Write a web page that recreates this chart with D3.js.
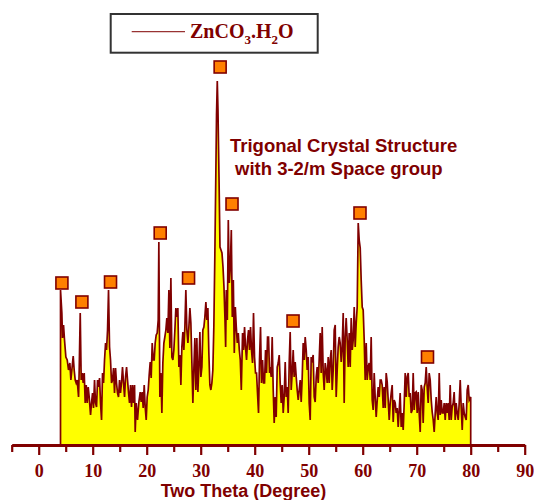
<!DOCTYPE html>
<html><head><meta charset="utf-8">
<script src="https://cdn.jsdelivr.net/npm/d3@7/dist/d3.min.js"></script>
<style>body{margin:0;background:#fff} svg{display:block}</style>
</head><body>
<svg id="chart" width="534" height="500"></svg>
<script>
// ---- data ----
const twoTheta = [
 4.04,4.29,4.41,4.60,4.78,5.03,5.28,5.52,5.77,5.96,6.14,6.39,6.57,6.76,6.94,7.13,7.38,7.50,7.69,7.87,
 8.06,8.24,8.43,8.61,8.80,8.98,9.17,9.35,9.60,9.78,9.97,10.15,10.34,10.52,10.71,10.90,11.08,11.27,11.45,11.64,
 11.82,12.01,12.19,12.38,12.56,12.75,12.93,13.12,13.30,13.49,13.67,13.86,14.04,14.23,14.41,14.60,14.78,14.97,15.15,15.34,
 15.52,15.71,15.90,16.08,16.27,16.45,16.64,16.82,17.01,17.19,17.38,17.56,17.75,
 17.87,18.06,18.30,18.55,18.80,18.98,19.17,19.35,19.54,19.72,19.91,20.09,20.28,20.46,20.65,20.83,21.02,21.20,21.39,21.57,
 21.76,21.94,22.13,22.25,22.44,22.62,22.81,22.99,23.18,23.36,23.55,23.73,23.92,24.11,24.29,24.48,24.66,24.85,25.03,25.22,
 25.40,25.59,25.77,25.96,26.14,26.33,26.51,26.70,26.88,27.07,27.25,27.44,27.63,27.81,28.00,28.18,28.37,28.55,28.74,28.92,
 29.11,29.29,29.48,29.66,29.85,30.03,30.22,30.40,30.59,30.77,30.96,31.14,31.33,31.51,31.70,31.88,32.07,32.25,
 32.44,32.62,32.80,32.93,33.07,33.20,33.39,33.57,33.76,33.94,34.13,34.31,34.50,34.62,34.74,34.93,35.11,35.30,35.48,35.67,
 35.85,36.04,36.22,36.41,36.59,36.78,36.96,37.15,37.33,37.52,37.75,37.93,38.12,38.30,38.49,38.67,38.86,39.04,39.23,39.41,
 39.60,39.78,39.97,40.15,40.34,40.52,40.71,40.89,41.08,41.26,41.45,41.64,41.82,42.01,42.19,42.38,42.56,42.75,
 42.87,43.06,43.24,43.43,43.61,43.80,43.98,44.17,44.35,44.54,44.72,44.91,45.09,45.28,45.46,45.65,45.83,46.02,46.20,46.39,
 46.57,46.76,46.94,47.13,47.31,47.50,47.69,47.87,48.06,48.24,48.43,48.61,48.80,48.98,49.17,49.35,49.54,49.72,49.91,50.09,
 50.28,50.46,50.65,50.83,51.02,51.20,51.39,51.57,51.76,51.94,52.13,52.31,52.50,52.69,52.87,53.06,53.24,53.43,53.61,53.80,
 53.98,54.17,54.35,54.54,54.72,54.91,55.09,55.28,55.46,55.65,55.83,56.02,56.20,56.39,56.57,56.76,56.94,57.13,57.31,57.50,
 57.69,57.87,58.06,58.24,58.43,58.61,58.80,58.98,59.17,59.35,59.54,59.72,59.91,
 60.09,60.28,60.46,60.65,60.83,61.02,61.20,61.39,61.57,61.76,61.94,62.13,62.31,62.50,62.69,62.87,63.06,63.24,63.43,63.61,
 63.80,63.98,64.17,64.35,64.54,64.72,64.91,65.09,65.28,65.46,65.65,65.83,66.02,66.20,66.39,66.57,66.76,66.94,67.13,67.31,
 67.50,67.69,67.87,68.06,68.24,68.43,68.61,68.80,68.98,69.17,69.35,69.54,69.72,69.91,70.09,70.28,70.46,70.65,70.83,71.02,
 71.20,71.39,71.57,71.76,71.94,72.13,72.31,72.50,72.69,72.87,73.06,73.24,73.43,73.61,73.80,73.98,74.17,74.35,74.54,74.72,
 74.91,75.09,75.28,75.46,75.65,75.83,76.02,76.20,76.39,76.57,76.76,76.94,77.13,77.31,77.50,77.69,77.87,78.06,78.24,78.43,
 78.61,78.80,78.98,79.17,79.35,79.54,79.72,80.00
];
const intensity = [
 155,132,107,120,105,88,85,75,82,65,75,89,75,65,62,65,48,75,132,65,
 72,62,72,42,60,42,58,48,30,42,52,37,65,42,38,65,58,67,42,25,
 72,62,85,102,95,115,155,98,85,62,65,77,52,77,62,52,48,65,52,63,
 78,62,48,68,78,65,52,42,60,38,60,42,60,
 13,42,25,43,53,43,53,37,60,38,25,48,55,70,83,67,102,85,85,102,
 110,112,125,203,48,72,32,82,102,108,115,127,112,155,97,167,88,85,95,115,
 137,128,137,78,90,60,98,113,95,118,155,115,102,118,137,122,82,42,77,107,
 55,107,53,78,113,68,78,115,118,128,143,125,137,92,60,55,62,75,
 120,190,270,330,364,335,268,198,195,192,178,158,125,98,155,125,225,162,178,215,
 128,165,92,138,118,102,112,95,85,55,112,95,118,98,85,105,115,95,118,95,
 82,132,88,72,72,52,32,85,118,62,85,62,62,95,72,108,108,72,
 78,68,108,55,22,48,28,78,82,90,62,42,60,32,48,83,48,58,32,82,
 113,55,72,95,68,83,68,55,45,55,65,43,68,102,85,108,95,75,88,42,
 25,88,85,90,48,43,68,78,62,85,112,72,118,72,55,82,75,62,88,62,
 85,95,55,75,115,120,48,75,98,108,102,83,98,132,42,108,127,105,78,112,
 78,127,95,105,138,98,122,138,222,205,197,165,138,
 135,105,65,102,65,78,82,65,108,45,35,72,48,28,45,58,48,65,65,60,
 37,58,37,72,63,45,25,42,52,60,23,45,42,32,37,18,35,52,18,32,
 15,42,72,48,68,72,48,52,32,35,72,35,52,53,32,53,32,13,60,55,
 22,58,62,78,58,42,72,65,45,33,25,13,32,48,32,25,72,30,45,32,
 32,42,25,42,32,42,25,60,25,38,42,53,25,42,32,25,42,65,38,15,
 42,32,28,25,55,60,45,48
];
const markerTheta = [4.3, 8.0, 13.3, 22.5, 27.75, 33.6, 35.8, 47.1, 59.5, 72.0];
const markerIntensity = [162, 143, 163, 212, 167, 378, 241, 124, 232, 88];
const majorTicks = [0, 10, 20, 30, 40, 50, 60, 70, 80, 90];
const minorTicks = [-5, 5, 15, 25, 35, 45, 55, 65, 75, 85];
const xTitle = "Two Theta (Degree)";
const noteLines = ["Trigonal Crystal Structure", "with 3-2/m Space group"];

// ---- drawing ----
const MAROON = "#800000";
const svg = d3.select("#chart");
const x = d3.scaleLinear().domain([-5, 90]).range([11.7, 524.7]);
const y = d3.scaleLinear().domain([0, 400]).range([445, 45]);

const pts = twoTheta.map((t, i) => [t, intensity[i]]);

svg.append("path")
  .datum(pts)
  .attr("d", d3.area().x(d => x(d[0])).y0(y(0)).y1(d => y(d[1])))
  .attr("fill", "#FFFF00");

const outline = [[twoTheta[0], 0], ...pts, [twoTheta[twoTheta.length - 1], 0]];
svg.append("path")
  .datum(outline)
  .attr("d", d3.line().x(d => x(d[0])).y(d => y(d[1])))
  .attr("fill", "none")
  .attr("stroke", MAROON)
  .attr("stroke-width", 1.7)
  .attr("stroke-linejoin", "miter");

// markers
svg.append("g").selectAll("rect")
  .data(markerTheta.map((t, i) => [t, markerIntensity[i]]))
  .join("rect")
  .attr("x", d => x(d[0]) - 6)
  .attr("y", d => y(d[1]) - 6)
  .attr("width", 12).attr("height", 12)
  .attr("fill", "#FF8000")
  .attr("stroke", MAROON)
  .attr("stroke-width", 1.6);

// axis
const gMinor = svg.append("g").attr("transform", "translate(0,445)")
  .call(d3.axisBottom(x).tickValues(minorTicks).tickSize(7).tickSizeOuter(0).tickFormat(""));
gMinor.select(".domain").remove();
gMinor.selectAll("line").attr("stroke", MAROON).attr("stroke-width", 2.2);

const gAxis = svg.append("g").attr("transform", "translate(0,445)")
  .call(d3.axisBottom(x).tickValues(majorTicks).tickSize(10).tickSizeOuter(0));
gAxis.select(".domain").attr("stroke", MAROON).attr("stroke-width", 3);
gAxis.selectAll("line").attr("stroke", MAROON).attr("stroke-width", 2.2);
gAxis.selectAll("text")
  .attr("y", 31.5).attr("dy", null)
  .attr("fill", MAROON)
  .style("font-family", "'Liberation Serif','Times New Roman',serif")
  .style("font-weight", "bold")
  .style("font-size", "18px");

svg.append("text")
  .attr("x", 243.5).attr("y", 496.5)
  .attr("text-anchor", "middle")
  .attr("fill", MAROON)
  .style("font-family", "'Liberation Sans',Arial,sans-serif")
  .style("font-weight", "bold")
  .style("font-size", "18px")
  .text(xTitle);

// annotation
const noteX = [230, 235], noteY = [151.7, 175];
noteLines.forEach((s, i) => {
  svg.append("text")
    .attr("x", noteX[i]).attr("y", noteY[i])
    .attr("fill", MAROON)
    .style("font-family", "'Liberation Sans',Arial,sans-serif")
    .style("font-weight", "bold")
    .style("font-size", "18.5px")
    .text(s);
});

// legend
const lg = svg.append("g");
lg.append("rect").attr("x", 110.7).attr("y", 14).attr("width", 207).attr("height", 38.7)
  .attr("fill", "#fff").attr("stroke", "#333").attr("stroke-width", 2);
lg.append("line").attr("x1", 131.7).attr("x2", 185).attr("y1", 31.7).attr("y2", 31.7)
  .attr("stroke", MAROON).attr("stroke-width", 1.3).attr("stroke-opacity", 0.8);
const lt = lg.append("text").attr("x", 190).attr("y", 38.3).attr("fill", MAROON)
  .style("font-family", "'Liberation Serif','Times New Roman',serif")
  .style("font-weight", "bold").style("font-size", "20px");
lt.append("tspan").text("ZnCO");
lt.append("tspan").attr("dy", 6).style("font-size", "13px").text("3");
lt.append("tspan").attr("dy", -6).text(".H");
lt.append("tspan").attr("dy", 6).style("font-size", "13px").text("2");
lt.append("tspan").attr("dy", -6).text("O");
</script>
</body></html>
